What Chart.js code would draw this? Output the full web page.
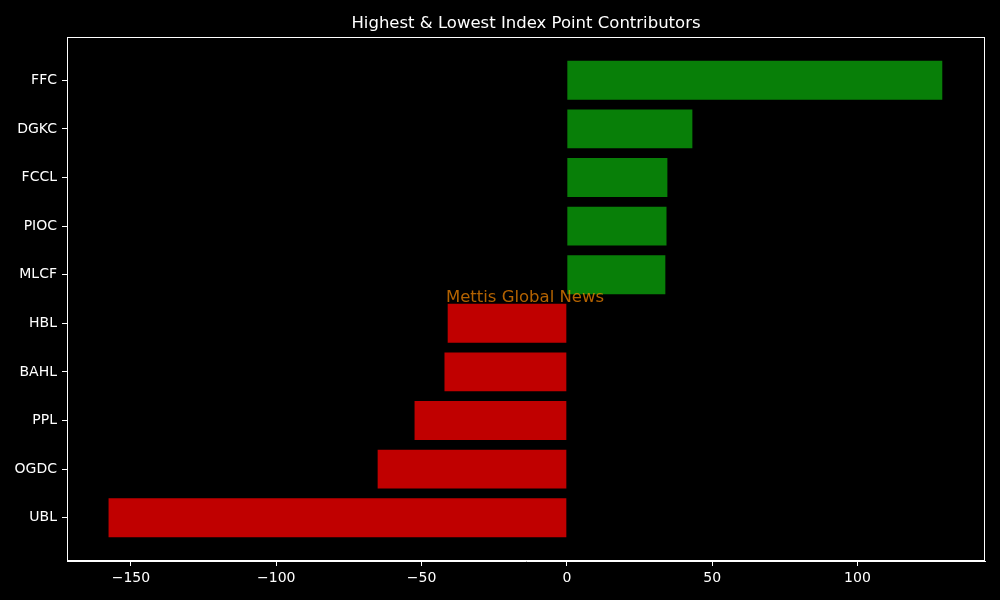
<!DOCTYPE html>
<html>
<head>
<meta charset="utf-8">
<script src="https://cdn.jsdelivr.net/npm/chart.js@4/dist/chart.umd.min.js"></script>
<style>
  html, body { margin: 0; padding: 0; background: #000; }
  canvas { display: block; }
</style>
</head>
<body>
<canvas id="grafico" width="1000" height="600"></canvas>
<script>
// datos (de arriba hacia abajo)
const empresas = ['FFC', 'DGKC', 'FCCL', 'PIOC', 'MLCF', 'HBL', 'BAHL', 'PPL', 'OGDC', 'UBL'];
const puntos = [129.2, 43.2, 34.6, 34.3, 33.9, -41.0, -42.1, -52.4, -65.1, -157.7];
const xTicks = [-150, -100, -50, 0, 50, 100];

const titulo = 'Highest & Lowest Index Point Contributors';
const marcaAgua = 'Mettis Global News';
const fuente = '"DejaVu Sans", sans-serif';

// marco, titulo y marca de agua
const extras = {
  id: 'extras',
  afterDatasetsDraw(chart) {
    const { ctx, chartArea: a } = chart;
    ctx.save();
    ctx.strokeStyle = '#fff';
    ctx.lineWidth = 1;
    ctx.strokeRect(a.left + 0.5, a.top + 0.5, a.right - a.left - 1, a.bottom - a.top - 1);

    ctx.fillStyle = 'rgba(255,140,0,0.7)';
    ctx.font = '16.5px ' + fuente;
    ctx.textAlign = 'center';
    ctx.textBaseline = 'middle';
    ctx.fillText(marcaAgua, 525, 298);

    ctx.fillStyle = '#fff';
    ctx.font = '16.5px ' + fuente;
    ctx.fillText(titulo, 526, 24);
    ctx.restore();
  }
};

new Chart(document.getElementById('grafico').getContext('2d'), {
  type: 'bar',
  data: {
    datasets: [{
      data: puntos.map((v, i) => ({ x: v, y: i })),
      backgroundColor: puntos.map(v => v >= 0 ? '#087f08' : '#c00000'),
      borderWidth: 0,
      barPercentage: 0.8,
      categoryPercentage: 1.0
    }]
  },
  options: {
    indexAxis: 'y',
    responsive: false,
    animation: false,
    layout: { padding: { top: 37, right: 15, left: 0, bottom: 0 } },
    plugins: { legend: { display: false }, tooltip: { enabled: false }, title: { display: false } },
    scales: {
      x: {
        type: 'linear',
        min: -172,
        max: 143.9,
        afterBuildTicks: s => { s.ticks = xTicks.map(v => ({ value: v })); },
        afterFit: s => { s.height = 39; },
        grid: { drawOnChartArea: false, drawTicks: true, tickLength: 5, color: '#fff' },
        border: { display: true, color: '#fff' },
        ticks: {
          color: '#fff',
          padding: 4,
          maxRotation: 0,
          font: { family: fuente, size: 14 },
          callback: v => v < 0 ? '\u2212' + Math.abs(v) : String(v)
        }
      },
      y: {
        type: 'linear',
        reverse: true,
        offset: false,
        min: -0.89,
        max: 9.89,
        afterBuildTicks: s => { s.ticks = empresas.map((_, i) => ({ value: i })); },
        afterFit: s => { s.width = 67; },
        grid: { offset: false, drawOnChartArea: false, drawTicks: true, tickLength: 5, color: '#fff' },
        border: { display: true, color: '#fff' },
        ticks: {
          color: '#fff',
          padding: 5,
          font: { family: fuente, size: 14 },
          callback: v => empresas[v] ?? ''
        }
      }
    }
  },
  plugins: [extras]
});
</script>
</body>
</html>
